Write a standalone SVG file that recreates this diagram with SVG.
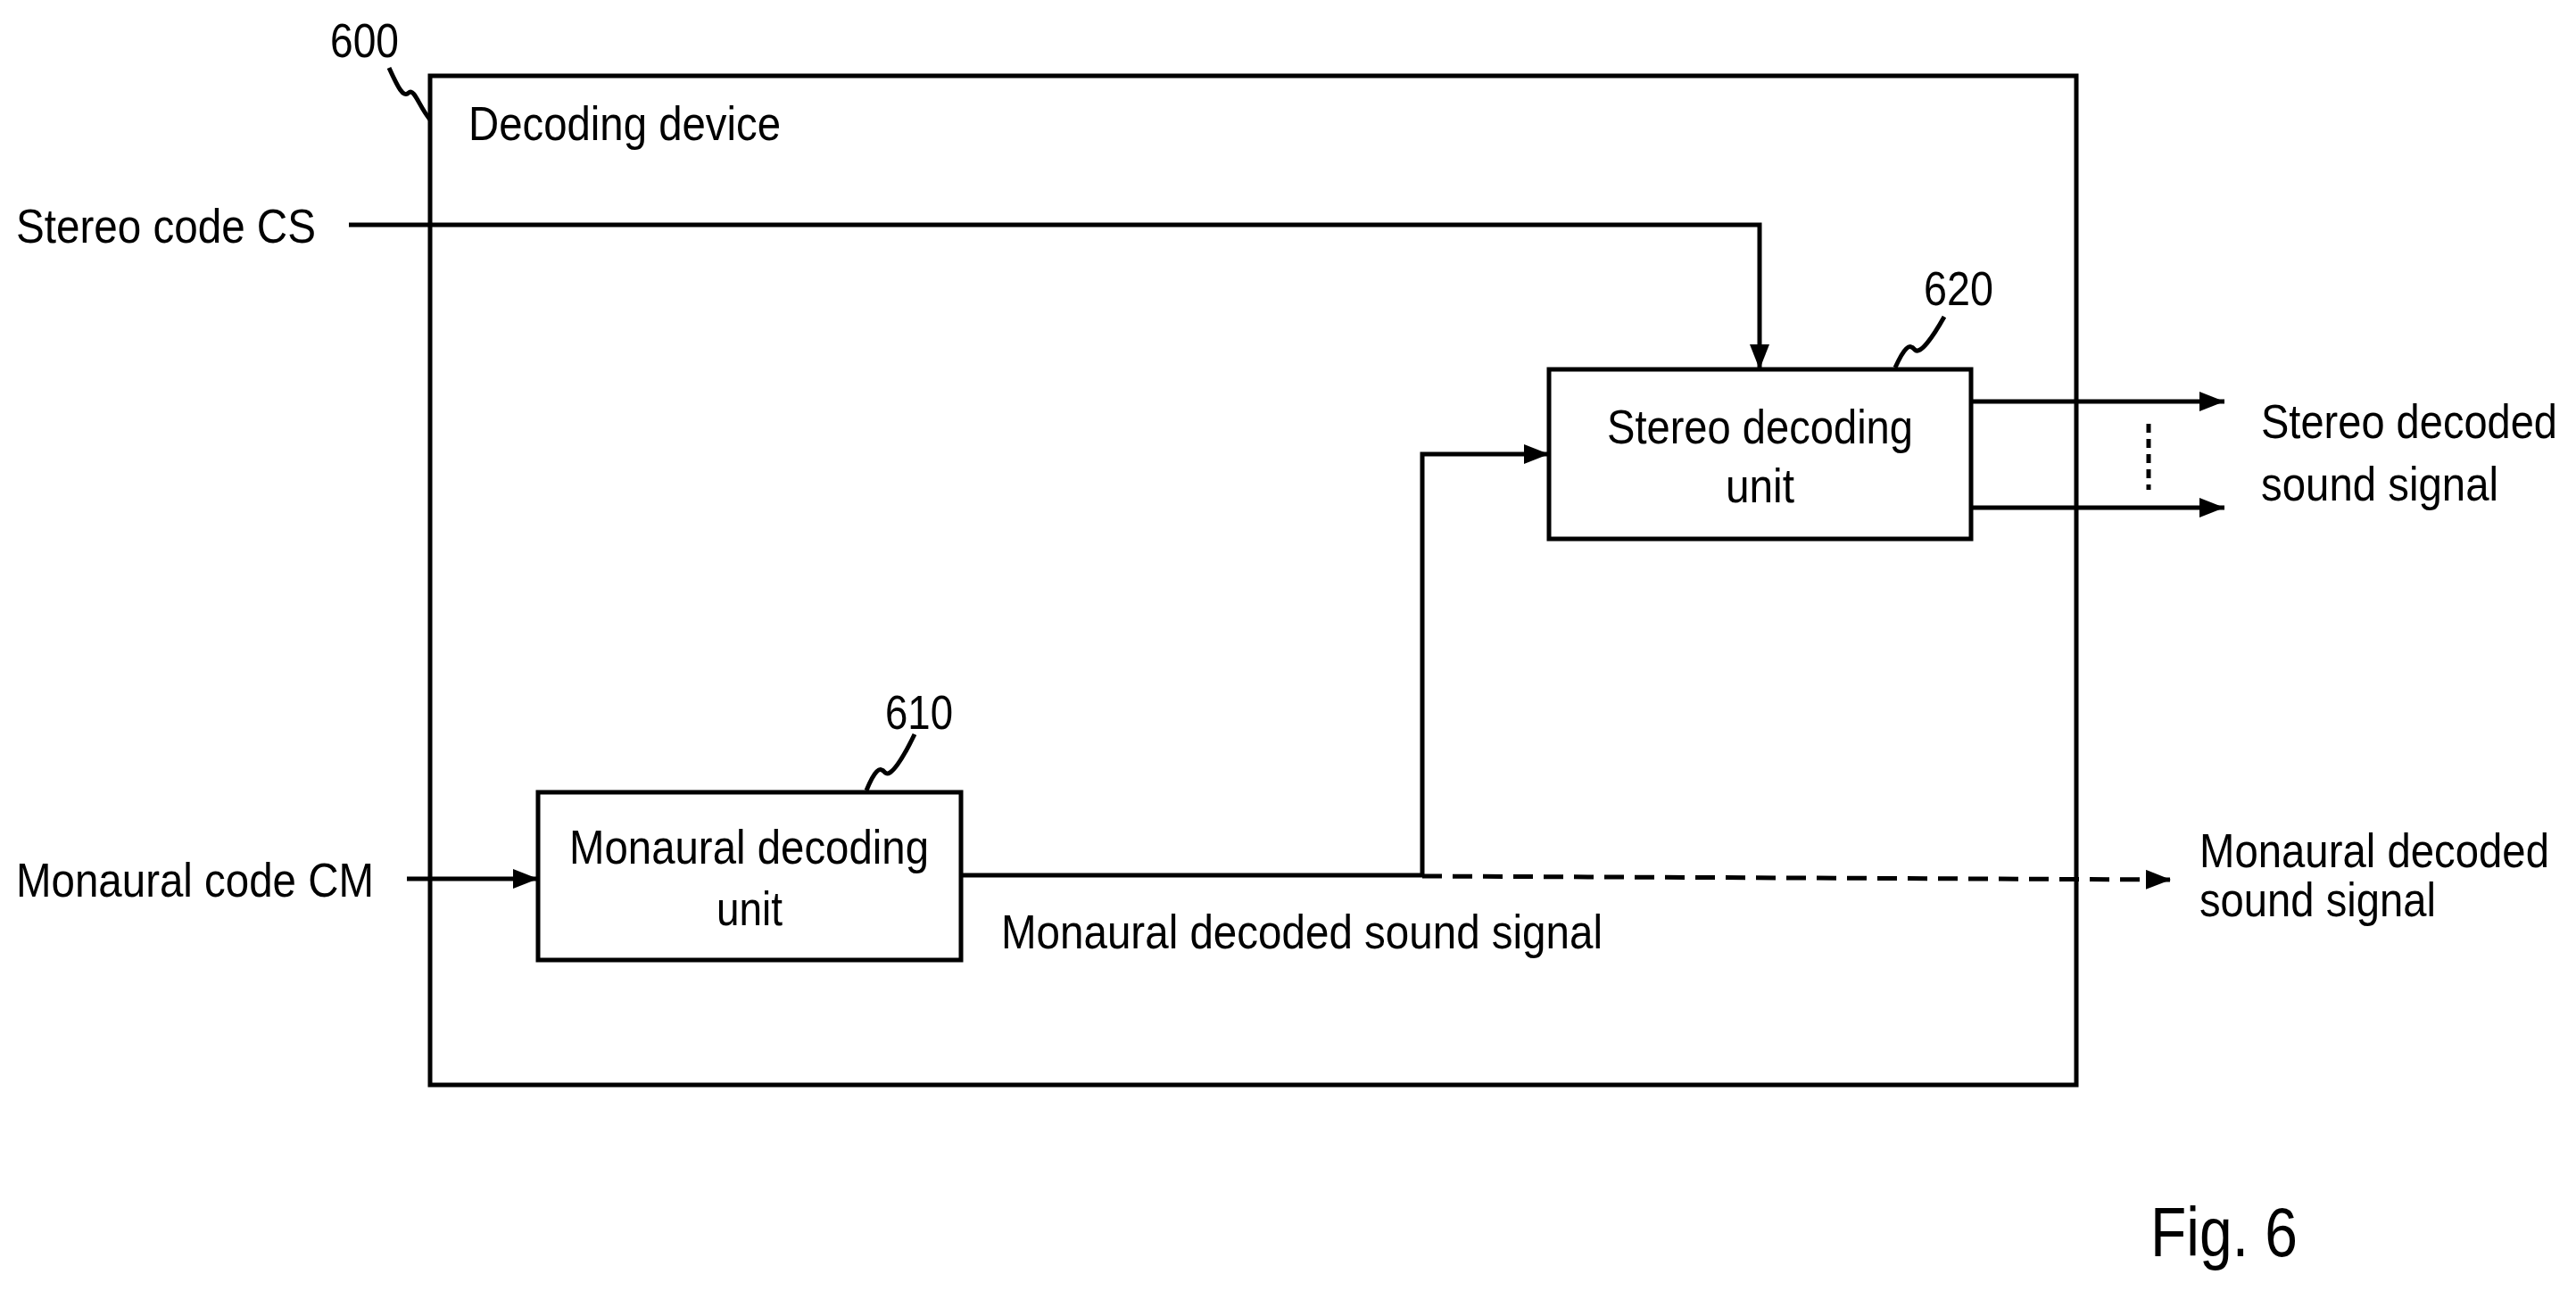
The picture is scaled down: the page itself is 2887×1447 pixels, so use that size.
<svg xmlns="http://www.w3.org/2000/svg" width="2887" height="1447" viewBox="0 0 2887 1447">
<style>
text{font-family:"Liberation Sans",Arial,sans-serif;font-size:53px;fill:#000}
.ln{fill:none;stroke:#000;stroke-width:5}
</style>
<defs>
<marker id="ah" viewBox="0 0 28 22" refX="28" refY="11" markerWidth="28" markerHeight="22" markerUnits="userSpaceOnUse" orient="auto">
<path d="M0,0 L28,11 L0,22 z" fill="#000"/>
</marker>
</defs>
<rect width="2887" height="1447" fill="#fff"/>
<g id="device">
<rect x="482" y="85" width="1845" height="1131" class="ln"/>
<text x="525" y="157" textLength="350" lengthAdjust="spacingAndGlyphs">Decoding device</text>
<text x="370" y="64" textLength="77" lengthAdjust="spacingAndGlyphs">600</text>
<path d="M436,76 C446,98 452,110 458,104 C464,98 470,120 482,134" class="ln" stroke-width="3"/>
</g>
<g id="mono">
<rect x="603" y="888" width="474" height="188" class="ln"/>
<text x="638" y="968" textLength="403" lengthAdjust="spacingAndGlyphs">Monaural decoding</text>
<text x="803" y="1037" textLength="74" lengthAdjust="spacingAndGlyphs">unit</text>
<text x="992" y="817" textLength="76" lengthAdjust="spacingAndGlyphs">610</text>
<path d="M971,886 C980,864 986,858 992,866 C998,872 1012,850 1025,823" class="ln" stroke-width="3"/>
</g>
<g id="stereo">
<rect x="1736" y="414" width="473" height="190" class="ln"/>
<text x="1801" y="497" textLength="343" lengthAdjust="spacingAndGlyphs">Stereo decoding</text>
<text x="1934" y="563" textLength="77" lengthAdjust="spacingAndGlyphs">unit</text>
<text x="2156" y="342" textLength="78" lengthAdjust="spacingAndGlyphs">620</text>
<path d="M2124,412 C2134,390 2140,384 2146,392 C2152,398 2166,378 2179,355" class="ln" stroke-width="3"/>
</g>
<g id="labels">
<text x="18" y="272" textLength="336" lengthAdjust="spacingAndGlyphs">Stereo code CS</text>
<text x="18" y="1005" textLength="401" lengthAdjust="spacingAndGlyphs">Monaural code CM</text>
<text x="1122" y="1063" textLength="674" lengthAdjust="spacingAndGlyphs">Monaural decoded sound signal</text>
<text x="2534" y="491" textLength="332" lengthAdjust="spacingAndGlyphs">Stereo decoded</text>
<text x="2534" y="561" textLength="266" lengthAdjust="spacingAndGlyphs">sound signal</text>
<text x="2465" y="972" textLength="392" lengthAdjust="spacingAndGlyphs">Monaural decoded</text>
<text x="2465" y="1027" textLength="265" lengthAdjust="spacingAndGlyphs">sound signal</text>
<text x="2410" y="1408" style="font-size:78px" textLength="165" lengthAdjust="spacingAndGlyphs">Fig. 6</text>
</g>
<g id="connectors">
<path d="M391,252 H1972 V414" class="ln" marker-end="url(#ah)"/>
<path d="M456,985 H603" class="ln" marker-end="url(#ah)"/>
<path d="M1077,981 H1594 V509 H1736" class="ln" marker-end="url(#ah)"/>
<path d="M1594,982 L2433,986" class="ln" stroke-dasharray="22,12" stroke-width="4" marker-end="url(#ah)"/>
<path d="M2209,450 H2493" class="ln" marker-end="url(#ah)"/>
<path d="M2209,569 H2493" class="ln" marker-end="url(#ah)"/>
<path d="M2408,475 V549" class="ln" stroke-width="7" stroke-dasharray="10,7"/>
</g>
</svg>
